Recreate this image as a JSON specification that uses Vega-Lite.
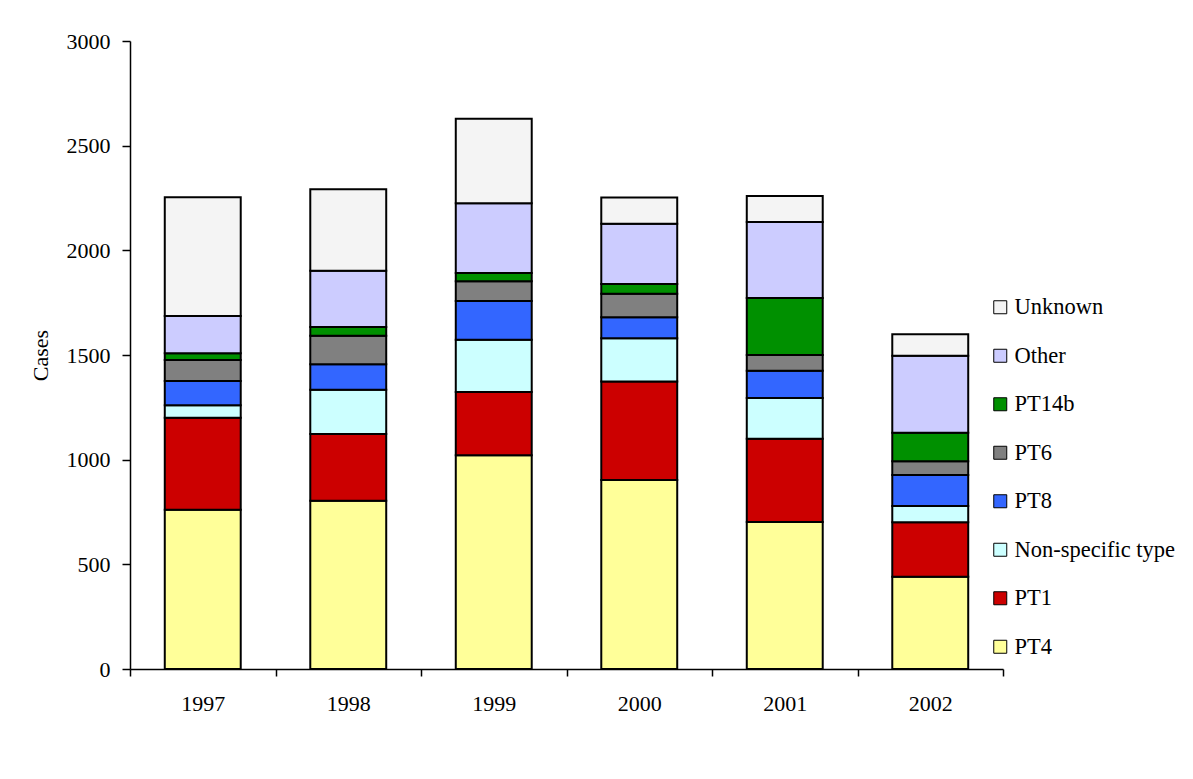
{
  "$schema": "https://vega.github.io/schema/vega-lite/v6.json",
  "width": 873,
  "height": 628,
  "autosize": "none",
  "padding": {"left": 130, "top": 41, "right": 190, "bottom": 110},
  "background": "white",
  "config": {"font": "Liberation Serif", "view": {"stroke": null}},
  "data": {"values": [
    {"year": "1997", "type": "PT4", "cases": 761},
    {"year": "1997", "type": "PT1", "cases": 439},
    {"year": "1997", "type": "Non-specific type", "cases": 60},
    {"year": "1997", "type": "PT8", "cases": 116},
    {"year": "1997", "type": "PT6", "cases": 100},
    {"year": "1997", "type": "PT14b", "cases": 32},
    {"year": "1997", "type": "Other", "cases": 178},
    {"year": "1997", "type": "Unknown", "cases": 567},
    {"year": "1998", "type": "PT4", "cases": 804},
    {"year": "1998", "type": "PT1", "cases": 319},
    {"year": "1998", "type": "Non-specific type", "cases": 211},
    {"year": "1998", "type": "PT8", "cases": 122},
    {"year": "1998", "type": "PT6", "cases": 136},
    {"year": "1998", "type": "PT14b", "cases": 42},
    {"year": "1998", "type": "Other", "cases": 269},
    {"year": "1998", "type": "Unknown", "cases": 389},
    {"year": "1999", "type": "PT4", "cases": 1021},
    {"year": "1999", "type": "PT1", "cases": 302},
    {"year": "1999", "type": "Non-specific type", "cases": 250},
    {"year": "1999", "type": "PT8", "cases": 185},
    {"year": "1999", "type": "PT6", "cases": 94},
    {"year": "1999", "type": "PT14b", "cases": 40},
    {"year": "1999", "type": "Other", "cases": 333},
    {"year": "1999", "type": "Unknown", "cases": 404},
    {"year": "2000", "type": "PT4", "cases": 903},
    {"year": "2000", "type": "PT1", "cases": 470},
    {"year": "2000", "type": "Non-specific type", "cases": 207},
    {"year": "2000", "type": "PT8", "cases": 100},
    {"year": "2000", "type": "PT6", "cases": 113},
    {"year": "2000", "type": "PT14b", "cases": 46},
    {"year": "2000", "type": "Other", "cases": 288},
    {"year": "2000", "type": "Unknown", "cases": 125},
    {"year": "2001", "type": "PT4", "cases": 702},
    {"year": "2001", "type": "PT1", "cases": 398},
    {"year": "2001", "type": "Non-specific type", "cases": 195},
    {"year": "2001", "type": "PT8", "cases": 130},
    {"year": "2001", "type": "PT6", "cases": 75},
    {"year": "2001", "type": "PT14b", "cases": 272},
    {"year": "2001", "type": "Other", "cases": 363},
    {"year": "2001", "type": "Unknown", "cases": 125},
    {"year": "2002", "type": "PT4", "cases": 441},
    {"year": "2002", "type": "PT1", "cases": 260},
    {"year": "2002", "type": "Non-specific type", "cases": 78},
    {"year": "2002", "type": "PT8", "cases": 148},
    {"year": "2002", "type": "PT6", "cases": 65},
    {"year": "2002", "type": "PT14b", "cases": 137},
    {"year": "2002", "type": "Other", "cases": 368},
    {"year": "2002", "type": "Unknown", "cases": 102}
  ]},
  "transform": [
    {"lookup": "type", "from": {"data": {"values": [
      {"type": "PT4", "rank": 1},
      {"type": "PT1", "rank": 2},
      {"type": "Non-specific type", "rank": 3},
      {"type": "PT8", "rank": 4},
      {"type": "PT6", "rank": 5},
      {"type": "PT14b", "rank": 6},
      {"type": "Other", "rank": 7},
      {"type": "Unknown", "rank": 8}
    ]}, "key": "type", "fields": ["rank"]}}
  ],
  "mark": {"type": "bar", "stroke": "black", "strokeWidth": 2, "width": {"band": 0.522}},
  "encoding": {
    "x": {
      "field": "year", "type": "ordinal",
      "scale": {"paddingInner": 0, "paddingOuter": 0},
      "axis": {
        "title": null, "labelAngle": 0, "tickBand": "extent", "tickSize": 7,
        "tickColor": "black", "tickWidth": 1.5, "domainColor": "black", "domainWidth": 1.5,
        "labelFontSize": 22, "labelFont": "Liberation Serif", "labelColor": "black", "labelPadding": 17
      }
    },
    "y": {
      "field": "cases", "type": "quantitative", "stack": "zero",
      "scale": {"domain": [0, 3000]},
      "axis": {
        "title": "Cases", "values": [0, 500, 1000, 1500, 2000, 2500, 3000], "format": "d", "grid": false,
        "domainColor": "black", "domainWidth": 1.5, "tickColor": "black", "tickWidth": 1.5, "tickSize": 8,
        "labelFontSize": 22, "labelFont": "Liberation Serif", "labelColor": "black", "labelPadding": 12,
        "titleFontSize": 22, "titleFont": "Liberation Serif", "titleFontWeight": "normal", "titleColor": "black", "titlePadding": 14
      }
    },
    "order": {"field": "rank", "type": "quantitative", "sort": "ascending"},
    "color": {
      "field": "type", "type": "nominal",
      "scale": {
        "domain": ["Unknown", "Other", "PT14b", "PT6", "PT8", "Non-specific type", "PT1", "PT4"],
        "range": ["#f4f4f4", "#CCCCFF", "#009000", "#808080", "#3366FF", "#CCFFFF", "#CC0000", "#FFFF99"]
      },
      "legend": {
        "orient": "none", "legendX": 859, "legendY": 255, "title": null, "padding": 0,
        "symbolType": "square", "symbolSize": 169, "symbolStrokeColor": "black", "symbolStrokeWidth": 1,
        "labelFontSize": 22.5, "labelFont": "Liberation Serif", "labelColor": "black", "labelLimit": 300,
        "rowPadding": 25.5, "labelOffset": 3
      }
    }
  }
}
